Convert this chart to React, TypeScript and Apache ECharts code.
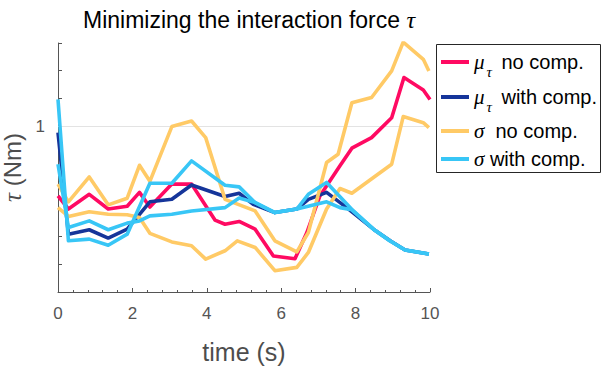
import React, { useEffect, useRef } from "react";
import * as echarts from "echarts";

// ---- data ----
const xTicks = [0, 2, 4, 6, 8, 10];
const yTickLabels = [1];

const muNoCompT = [0, 0.28, 0.84, 1.35, 1.86, 2.19, 2.47, 3.06, 3.59, 4.22, 4.49, 4.87, 5.3, 5.79, 6.37, 6.69, 7.04, 7.58, 7.9, 8.43, 8.97, 9.3, 9.82, 10];
const muNoCompV = [0.747, 0.7, 0.753, 0.7, 0.71, 0.76, 0.707, 0.79, 0.79, 0.66, 0.645, 0.655, 0.627, 0.53, 0.52, 0.615, 0.747, 0.856, 0.92, 0.958, 1.03, 1.175, 1.13, 1.096];

const muCompT = [0, 0.28, 0.84, 1.35, 1.86, 2.47, 3.06, 3.59, 4.49, 4.87, 5.25, 5.83, 6.42, 6.73, 7.22, 7.76, 8.48, 8.93, 9.33, 9.73, 9.97];
const muCompV = [0.976, 0.609, 0.625, 0.595, 0.627, 0.726, 0.735, 0.787, 0.745, 0.757, 0.717, 0.687, 0.7, 0.735, 0.76, 0.705, 0.627, 0.585, 0.552, 0.543, 0.537];

const sigNoCompUpperT = [0, 0.28, 0.84, 1.35, 1.86, 2.19, 2.47, 3.06, 3.59, 3.97, 4.49, 5.3, 5.83, 6.42, 6.73, 7.22, 7.53, 7.9, 8.43, 8.97, 9.28, 9.82, 9.97];
const sigNoCompUpperV = [0.79, 0.726, 0.816, 0.715, 0.739, 0.858, 0.8, 0.998, 1.018, 0.958, 0.735, 0.693, 0.585, 0.545, 0.615, 0.868, 0.898, 1.084, 1.103, 1.199, 1.303, 1.241, 1.199];

const sigNoCompLowerT = [0, 0.28, 0.84, 1.35, 1.86, 2.19, 2.47, 3.06, 3.59, 3.97, 4.49, 4.82, 5.3, 5.83, 6.42, 6.73, 7.22, 7.58, 7.9, 8.48, 8.97, 9.28, 9.82, 9.97];
const sigNoCompLowerV = [0.705, 0.673, 0.69, 0.681, 0.679, 0.669, 0.612, 0.581, 0.567, 0.519, 0.549, 0.585, 0.561, 0.477, 0.489, 0.543, 0.7, 0.774, 0.757, 0.814, 0.862, 1.034, 1.012, 0.994];

const sigCompUpperT = [0, 0.28, 0.84, 1.35, 1.86, 2.47, 3.06, 3.59, 4.49, 4.87, 5.3, 5.83, 6.42, 6.73, 7.22, 7.94, 8.48, 8.92, 9.33, 9.73, 9.97];
const sigCompUpperV = [1.096, 0.585, 0.591, 0.569, 0.609, 0.793, 0.793, 0.874, 0.786, 0.78, 0.723, 0.687, 0.7, 0.753, 0.796, 0.693, 0.627, 0.585, 0.552, 0.543, 0.537];

const sigCompLowerT = [0, 0.28, 0.84, 1.35, 1.86, 2.19, 2.47, 3.06, 3.59, 4.49, 4.87, 5.3, 5.83, 6.42, 7.22, 7.58, 7.9, 8.48, 8.92, 9.33, 9.73, 9.97];
const sigCompLowerV = [0.862, 0.633, 0.657, 0.625, 0.649, 0.657, 0.675, 0.681, 0.693, 0.705, 0.74, 0.723, 0.687, 0.7, 0.726, 0.705, 0.697, 0.627, 0.585, 0.552, 0.543, 0.537];

const names = ["μτ no comp.", "μτ with comp.", "σ  no comp.", "σ with comp."];
const colors = ["#FF0A62", "#15359A", "#FFCA66", "#38C6F6"];

const zip = (t: number[], v: number[]) => t.map((x, i) => [x, v[i]]);

export default function App() {
  const ref = useRef<HTMLDivElement>(null);
  useEffect(() => {
    if (!ref.current) return;
    const chart = echarts.init(ref.current, undefined, { renderer: "svg" });
    const serif = "Liberation Serif";
    const sans = "Liberation Sans";
    const line = (name: string, color: string, data: number[][], extra: any = {}) => ({
      type: "line",
      name,
      data,
      symbol: "none",
      showSymbol: false,
      lineStyle: { color, width: 3.6, join: "round" },
      itemStyle: { color },
      z: 2,
      ...extra,
    });
    const legendText: Record<string, string> = {
      [names[0]]: "{g|μ}{s|τ}{t| no comp.}",
      [names[1]]: "{g|μ}{s|τ}{t| with comp.}",
      [names[2]]: "{g|σ}{t|  no comp.}",
      [names[3]]: "{g|σ}{t| with comp.}",
    };
    const legendTops = [45, 80, 117, 145];
    const legends = names.map((n, i) => ({
      data: [n],
      orient: "vertical",
      left: 441,
      top: legendTops[i],
      padding: 0,
      itemWidth: 28,
      itemHeight: 4,
      icon: "rect",
      z: 10,
      selectedMode: false,
      formatter: (nm: string) => legendText[nm] || nm,
      textStyle: {
        fontFamily: sans,
        fontSize: 20,
        lineHeight: 28,
        color: "#000",
        rich: {
          g: { fontFamily: serif, fontStyle: "italic", fontSize: 21, color: "#000", lineHeight: 28 },
          s: { fontFamily: serif, fontStyle: "italic", fontSize: 15, lineHeight: 16, color: "#000", padding: [19, 4, 0, 2] },
          t: { fontFamily: sans, fontSize: 20, color: "#000", lineHeight: 28 },
        },
      },
    }));
    chart.setOption({
      animation: false,
      title: {
        text: "Minimizing the interaction force {i|τ}",
        left: 244,
        textAlign: "center",
        top: 3,
        textStyle: {
          fontFamily: sans,
          fontSize: 23,
          fontWeight: "normal",
          color: "#000",
          rich: { i: { fontFamily: serif, fontStyle: "italic", fontSize: 24, color: "#000" } },
        },
      },
      grid: { left: 58, right: 173, top: 43, bottom: 77, outerBoundsMode: "none", containLabel: false },
      graphic: [
        {
          type: "rect",
          left: 436,
          top: 44,
          z: 5,
          shape: { width: 164, height: 128 },
          style: { fill: "#fff", stroke: "#262626", lineWidth: 1 },
          silent: true,
        },
      ],
      legend: legends,
      xAxis: {
        type: "value",
        min: 0,
        max: 10,
        interval: 2,
        name: "time (s)",
        nameLocation: "middle",
        nameGap: 47,
        nameTextStyle: { fontFamily: sans, fontSize: 25, color: "#4d4d4d" },
        axisLine: { lineStyle: { color: "#555", width: 1 } },
        axisTick: { inside: true, length: 4, lineStyle: { color: "#555" } },
        minorTick: { show: true, splitNumber: 5, length: 2, lineStyle: { color: "#555" } },
        axisLabel: {
          fontFamily: sans,
          fontSize: 17,
          color: "#555",
          margin: 13,
          formatter: (v: number) => (xTicks.includes(v) ? String(v) : ""),
        },
        splitLine: { show: false },
      },
      yAxis: {
        type: "value",
        min: 0.4,
        max: 1.3,
        interval: 0.1,
        name: "{i|τ} (Nm)",
        nameLocation: "middle",
        nameGap: 15,
        nameRotate: 90,
        nameTextStyle: {
          fontFamily: sans,
          fontSize: 24,
          color: "#4d4d4d",
          rich: { i: { fontFamily: serif, fontStyle: "italic", fontSize: 25, color: "#4d4d4d" } },
        },
        axisLine: { show: true, lineStyle: { color: "#555", width: 1 } },
        axisTick: { show: true, inside: true, length: 4, lineStyle: { color: "#555" } },
        axisLabel: {
          fontFamily: sans,
          fontSize: 17,
          color: "#555",
          margin: 13,
          formatter: (v: number) => {
            const hit = yTickLabels.find((t) => Math.abs(t - v) < 1e-6);
            return hit !== undefined ? String(hit) : "";
          },
        },
        splitLine: { show: false },
      },
      series: [
        line(names[0], colors[0], zip(muNoCompT, muNoCompV), {
          markLine: {
            silent: true,
            symbol: "none",
            label: { show: false },
            lineStyle: { color: "#e3e3e3", width: 1, type: "solid" },
            data: [{ yAxis: 1 }],
            z: 1,
          },
        }),
        line(names[1], colors[1], zip(muCompT, muCompV)),
        line(names[2], colors[2], zip(sigNoCompUpperT, sigNoCompUpperV)),
        line(names[2], colors[2], zip(sigNoCompLowerT, sigNoCompLowerV)),
        line(names[3], colors[3], zip(sigCompUpperT, sigCompUpperV)),
        line(names[3], colors[3], zip(sigCompLowerT, sigCompLowerV)),
      ],
    });
    return () => chart.dispose();
  }, []);
  return <div ref={ref} style={{ position: "absolute", left: 0, top: 0, width: 603, height: 369 }} />;
}
